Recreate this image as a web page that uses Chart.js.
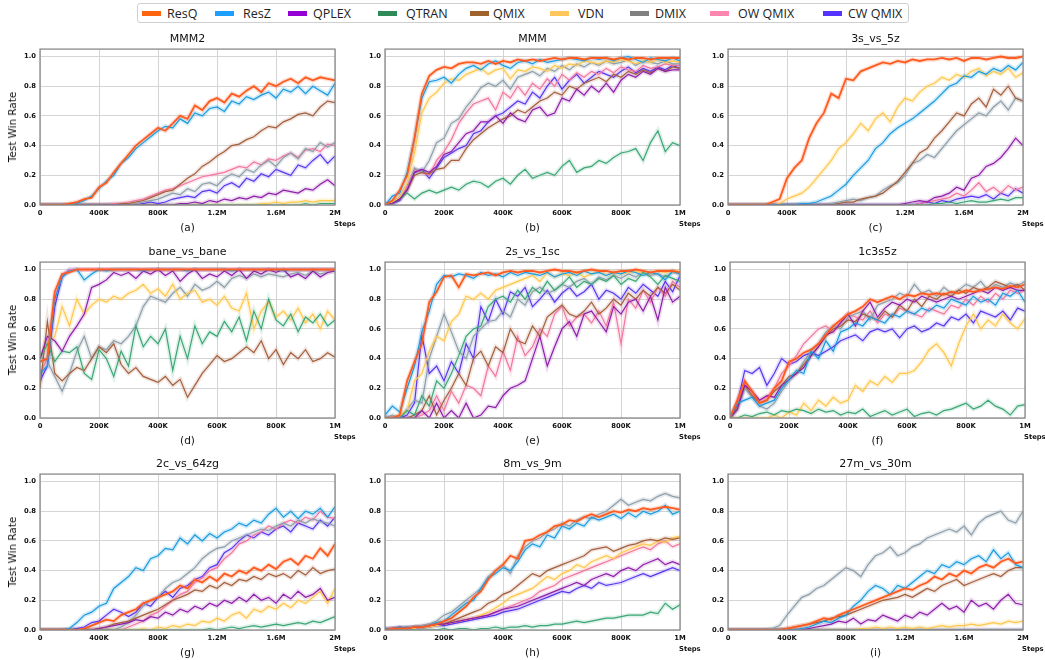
<!DOCTYPE html>
<html><head><meta charset="utf-8">
<script src="https://cdn.jsdelivr.net/npm/chart.js@4.4.1/dist/chart.umd.min.js"></script>
<style>
body{margin:0;background:#fff;width:1045px;height:660px;position:relative;overflow:hidden;font-family:'DejaVu Sans',sans-serif;}
canvas{position:absolute;}
.t{position:absolute;font-size:11px;color:#111;transform:translate(-50%,-50%);white-space:nowrap;}
.sub{position:absolute;font-size:10.5px;color:#111;transform:translate(-50%,-50%);white-space:nowrap;}
.steps{position:absolute;font-weight:bold;font-size:6.8px;color:#111;white-space:nowrap;}
.ylab{position:absolute;font-size:10.4px;font-weight:normal;color:#111;white-space:nowrap;transform:translate(-50%,-50%) rotate(-90deg);}
#legend{position:absolute;left:137px;top:3px;width:770px;height:18px;border:1px solid #cfcfcf;border-radius:3px;background:#fff;}
.lb{position:absolute;top:7px;width:19px;height:5px;}
.lt{position:absolute;top:0;line-height:19px;font-family:'Open Sans',sans-serif;font-size:12.5px;color:#222;white-space:nowrap;}
</style></head><body>
<div id="legend"></div>
<script>
const SERIES = ['ResQ','ResZ','QPLEX','QTRAN','QMIX','VDN','DMIX','OW QMIX','CW QMIX'];
const X_TICKS_2M = [0,400000,800000,1200000,1600000,2000000];
const X_LABELS_2M = ['0','400K','800K','1.2M','1.6M','2M'];
const X_TICKS_1M = [0,200000,400000,600000,800000,1000000];
const X_LABELS_1M = ['0','200K','400K','600K','800K','1M'];
const Y_TICKS = [0,0.2,0.4,0.6,0.8,1.0];
const Y_LABELS = ['0.0','0.2','0.4','0.6','0.8','1.0'];

// (a) MMM2, 0..2M
const MMM2_ResQ = [0,0,0,0,0.01,0.02,0.04,0.05,0.12,0.15, 0.22,0.28,0.34,0.40,0.44,0.48,0.52,0.50,0.55,0.60, 0.58,0.67,0.64,0.70,0.72,0.69,0.75,0.73,0.77,0.80, 0.76,0.82,0.80,0.83,0.85,0.82,0.86,0.84,0.86,0.85, 0.84];
const MMM2_ResZ = [0,0,0,0,0,0.01,0.03,0.06,0.11,0.16, 0.20,0.28,0.32,0.38,0.42,0.46,0.50,0.53,0.52,0.58, 0.55,0.62,0.60,0.65,0.66,0.63,0.70,0.68,0.73,0.71, 0.74,0.76,0.72,0.78,0.76,0.80,0.75,0.80,0.77,0.74, 0.82];
const MMM2_QPLEX = [0,0,0,0,0,0,0,0,0,0, 0,0,0,0,0,0,0,0,0,0.01, 0.01,0.02,0.01,0.03,0.02,0.04,0.03,0.05,0.04,0.06, 0.05,0.08,0.07,0.10,0.09,0.08,0.11,0.10,0.14,0.17, 0.13];
const MMM2_QTRAN = [0,0,0,0,0,0,0,0,0,0, 0,0,0,0,0,0,0,0,0,0, 0,0,0,0,0,0,0,0,0,0, 0,0,0,0,0,0,0.01,0,0.01,0.01, 0.01];
const MMM2_QMIX = [0,0,0,0,0,0,0,0,0,0, 0,0.01,0.01,0.02,0.03,0.05,0.07,0.09,0.10,0.14, 0.18,0.21,0.26,0.29,0.33,0.36,0.40,0.41,0.44,0.46, 0.50,0.53,0.52,0.56,0.58,0.61,0.62,0.60,0.66,0.70, 0.69];
const MMM2_VDN = [0,0,0,0,0,0,0,0,0,0, 0,0,0,0,0,0,0,0,0,0, 0,0,0,0,0,0,0,0,0,0, 0.01,0.01,0.02,0.01,0.02,0.02,0.03,0.02,0.03,0.03, 0.03];
const MMM2_DMIX = [0,0,0,0,0,0,0,0,0,0, 0,0,0,0.01,0.02,0.03,0.04,0.06,0.08,0.07, 0.11,0.09,0.14,0.15,0.13,0.18,0.21,0.19,0.24,0.22, 0.27,0.30,0.26,0.32,0.35,0.31,0.38,0.36,0.42,0.39, 0.42];
const MMM2_OWQMIX = [0,0,0,0,0,0,0,0,0,0, 0.01,0.01,0.02,0.03,0.04,0.06,0.08,0.10,0.11,0.13, 0.15,0.17,0.19,0.20,0.21,0.22,0.24,0.26,0.25,0.29, 0.27,0.31,0.30,0.33,0.35,0.32,0.37,0.38,0.36,0.41, 0.40];
const MMM2_CWQMIX = [0,0,0,0,0,0,0,0,0,0, 0,0,0,0,0.01,0.02,0.01,0.02,0.04,0.05, 0.06,0.05,0.09,0.10,0.08,0.13,0.15,0.12,0.18,0.16, 0.21,0.19,0.24,0.22,0.20,0.27,0.25,0.30,0.34,0.28, 0.33];

// (b) MMM, 0..1M
const MMM_ResQ = [0,0.03,0.10,0.20,0.45,0.75,0.87,0.91,0.93,0.92, 0.95,0.96,0.96,0.95,0.97,0.95,0.97,0.96,0.98,0.97, 0.98,0.97,0.98,0.99,0.98,0.99,0.99,0.98,0.99,0.99, 0.99,0.98,0.99,0.98,0.99,0.99,0.98,0.99,0.99,0.99, 0.99];
const MMM_ResZ = [0,0.06,0.08,0.22,0.45,0.72,0.83,0.84,0.86,0.82, 0.88,0.92,0.94,0.91,0.95,0.97,0.94,0.92,0.96,0.97, 0.95,0.98,0.96,0.97,0.98,0.99,0.98,0.97,0.99,0.98, 0.99,0.97,0.99,1.0,0.98,0.96,0.99,0.98,0.97,0.99, 0.97];
const MMM_QPLEX = [0,0.01,0.04,0.10,0.22,0.24,0.22,0.26,0.34,0.36, 0.42,0.48,0.50,0.56,0.56,0.60,0.55,0.62,0.58,0.56, 0.64,0.66,0.60,0.62,0.72,0.70,0.78,0.74,0.80,0.76, 0.82,0.76,0.84,0.88,0.86,0.90,0.88,0.92,0.90,0.91, 0.91];
const MMM_QTRAN = [0,0.01,0.04,0.08,0.04,0.08,0.10,0.08,0.10,0.12, 0.10,0.14,0.16,0.15,0.12,0.16,0.18,0.14,0.20,0.24, 0.18,0.20,0.22,0.20,0.26,0.30,0.22,0.25,0.26,0.30, 0.28,0.32,0.35,0.36,0.38,0.30,0.42,0.50,0.36,0.42, 0.40];
const MMM_QMIX = [0,0.01,0.04,0.10,0.20,0.22,0.21,0.24,0.25,0.30, 0.30,0.38,0.44,0.48,0.52,0.55,0.58,0.60,0.64,0.62, 0.66,0.70,0.72,0.76,0.74,0.80,0.78,0.82,0.84,0.86, 0.83,0.88,0.86,0.90,0.88,0.91,0.89,0.92,0.90,0.93, 0.92];
const MMM_VDN = [0,0.02,0.05,0.15,0.35,0.62,0.72,0.76,0.82,0.85, 0.84,0.88,0.90,0.92,0.88,0.91,0.92,0.85,0.91,0.90, 0.93,0.92,0.90,0.94,0.92,0.95,0.94,0.97,0.96,0.95, 0.97,0.96,0.98,0.97,0.95,0.97,0.96,0.98,0.96,0.97, 0.96];
const MMM_DMIX = [0,0.02,0.05,0.10,0.25,0.22,0.30,0.42,0.45,0.55, 0.58,0.66,0.72,0.79,0.82,0.80,0.84,0.78,0.86,0.88, 0.90,0.87,0.92,0.90,0.94,0.91,0.95,0.93,0.96,0.94, 0.97,0.95,0.96,0.98,0.94,0.97,0.96,0.95,0.97,0.95, 0.95];
const MMM_OWQMIX = [0,0.01,0.05,0.12,0.24,0.22,0.20,0.30,0.36,0.44, 0.55,0.62,0.68,0.70,0.72,0.64,0.76,0.72,0.80,0.74, 0.82,0.78,0.85,0.80,0.88,0.84,0.89,0.86,0.90,0.88, 0.92,0.89,0.93,0.91,0.90,0.94,0.92,0.93,0.95,0.94, 0.94];
const MMM_CWQMIX = [0,0.01,0.03,0.12,0.22,0.24,0.18,0.25,0.32,0.35, 0.38,0.40,0.48,0.50,0.56,0.60,0.62,0.66,0.70,0.68, 0.76,0.72,0.80,0.86,0.78,0.84,0.88,0.82,0.86,0.90, 0.88,0.86,0.90,0.93,0.89,0.92,0.90,0.93,0.91,0.94, 0.92];

// (c) 3s_vs_5z, 0..2M
const S3V5Z_ResQ = [0,0,0,0,0,0,0.02,0.04,0.18,0.25, 0.30,0.45,0.55,0.62,0.75,0.72,0.85,0.84,0.90,0.92, 0.94,0.96,0.95,0.97,0.96,0.98,0.97,0.98,0.98,0.99, 0.98,0.99,0.97,0.99,0.99,0.98,0.99,1.0,0.99,0.99, 1.0];
const S3V5Z_ResZ = [0,0,0,0,0,0,0,0,0,0, 0.01,0.01,0.02,0.04,0.06,0.10,0.14,0.20,0.25,0.30, 0.38,0.42,0.48,0.52,0.55,0.58,0.62,0.66,0.70,0.75, 0.80,0.82,0.87,0.86,0.90,0.88,0.92,0.90,0.94,0.91, 0.96];
const S3V5Z_QPLEX = [0,0,0,0,0,0,0,0,0,0, 0,0,0,0,0,0,0,0,0,0, 0,0,0,0,0.01,0.02,0.03,0.02,0.05,0.06, 0.08,0.12,0.10,0.18,0.20,0.26,0.28,0.32,0.38,0.45, 0.40];
const S3V5Z_QTRAN = [0,0,0,0,0,0,0,0,0,0, 0,0,0,0,0,0,0,0,0,0, 0,0,0,0,0,0,0,0,0.01,0.01, 0.02,0.01,0.02,0.03,0.02,0.02,0.03,0.04,0.03,0.05, 0.05];
const S3V5Z_QMIX = [0,0,0,0,0,0,0,0,0,0, 0,0,0,0,0,0.01,0.02,0.02,0.04,0.05, 0.06,0.08,0.12,0.16,0.22,0.28,0.35,0.38,0.45,0.50, 0.56,0.62,0.60,0.68,0.72,0.66,0.78,0.74,0.80,0.72, 0.70];
const S3V5Z_VDN = [0,0,0,0,0,0,0,0.01,0.04,0.06, 0.08,0.12,0.18,0.24,0.30,0.38,0.42,0.48,0.55,0.50, 0.58,0.62,0.56,0.66,0.72,0.70,0.76,0.80,0.82,0.86, 0.84,0.88,0.86,0.90,0.92,0.87,0.90,0.88,0.92,0.86, 0.89];
const S3V5Z_DMIX = [0,0,0,0,0,0,0,0,0,0, 0,0,0,0,0.01,0.02,0.03,0.04,0.03,0.05, 0.06,0.10,0.13,0.15,0.20,0.28,0.30,0.34,0.32,0.38, 0.44,0.50,0.54,0.58,0.62,0.60,0.66,0.70,0.64,0.72, 0.70];
const S3V5Z_OWQMIX = [0,0,0,0,0,0,0,0,0,0, 0,0,0,0,0,0,0,0,0,0, 0,0,0,0,0,0,0.01,0.02,0.03,0.04, 0.05,0.08,0.06,0.10,0.15,0.09,0.12,0.08,0.13,0.10, 0.12];
const S3V5Z_CWQMIX = [0,0,0,0,0,0,0,0,0,0, 0,0,0,0,0,0,0,0,0,0, 0,0,0,0,0,0,0.01,0.02,0.01,0.03, 0.02,0.04,0.05,0.06,0.05,0.07,0.04,0.08,0.06,0.11, 0.08];

// (d) bane_vs_bane, 0..1M
const BANE_ResQ = [0.38,0.40,0.85,0.97,0.98,1.0,1.0,1.0,1.0,1.0, 1.0,1.0,1.0,1.0,1.0,1.0,1.0,1.0,1.0,1.0, 1.0,1.0,1.0,1.0,1.0,1.0,1.0,1.0,1.0,1.0, 1.0,1.0,1.0,1.0,1.0,1.0,1.0,1.0,1.0,1.0, 1.0];
const BANE_ResZ = [0.30,0.35,0.80,0.95,0.99,1.0,0.93,0.97,1.0,0.99, 1.0,1.0,1.0,1.0,0.99,1.0,1.0,1.0,1.0,1.0, 0.99,1.0,1.0,1.0,1.0,1.0,0.99,1.0,1.0,1.0, 1.0,1.0,1.0,0.99,1.0,1.0,1.0,1.0,1.0,1.0, 1.0];
const BANE_QPLEX = [0.40,0.55,0.52,0.45,0.55,0.62,0.70,0.88,0.90,0.93, 0.98,0.96,0.98,0.94,0.99,0.97,1.0,0.96,0.99,0.92, 0.97,1.0,0.94,0.97,0.95,0.99,0.96,1.0,0.94,0.99, 0.97,1.0,0.98,1.0,0.95,0.97,0.94,0.99,0.95,0.98, 0.99];
const BANE_QTRAN = [0.40,0.50,0.38,0.45,0.44,0.48,0.30,0.26,0.46,0.40, 0.28,0.45,0.35,0.62,0.48,0.55,0.50,0.60,0.32,0.55, 0.40,0.62,0.50,0.58,0.55,0.65,0.58,0.68,0.52,0.72, 0.60,0.80,0.66,0.62,0.70,0.58,0.68,0.64,0.70,0.62, 0.66];
const BANE_QMIX = [0.20,0.65,0.30,0.25,0.30,0.34,0.32,0.40,0.48,0.44, 0.50,0.36,0.30,0.34,0.28,0.26,0.24,0.28,0.22,0.26, 0.14,0.22,0.30,0.36,0.42,0.38,0.40,0.44,0.48,0.44, 0.52,0.40,0.46,0.36,0.44,0.40,0.46,0.38,0.40,0.44, 0.41];
const BANE_VDN = [0.40,0.50,0.55,0.75,0.62,0.80,0.70,0.76,0.80,0.78, 0.82,0.80,0.84,0.86,0.90,0.84,0.87,0.82,0.90,0.80, 0.84,0.86,0.78,0.80,0.76,0.82,0.74,0.72,0.84,0.60, 0.72,0.78,0.68,0.72,0.66,0.74,0.64,0.70,0.60,0.72, 0.66];
const BANE_DMIX = [0.42,0.38,0.28,0.18,0.30,0.45,0.55,0.40,0.48,0.46, 0.52,0.50,0.55,0.62,0.75,0.82,0.80,0.78,0.84,0.88, 0.82,0.90,0.86,0.88,0.92,0.88,0.94,0.96,0.94,0.97, 0.95,0.97,0.96,0.95,0.97,0.98,0.96,0.99,0.97,0.98, 0.99];
const BANE_OWQMIX = [0.30,0.40,0.80,0.96,1.0,1.0,1.0,1.0,1.0,1.0, 1.0,1.0,1.0,1.0,1.0,1.0,1.0,1.0,1.0,1.0, 1.0,1.0,1.0,1.0,1.0,1.0,1.0,1.0,1.0,1.0, 1.0,1.0,1.0,1.0,1.0,1.0,1.0,1.0,1.0,1.0, 1.0];
const BANE_CWQMIX = [0.25,0.35,0.75,0.95,1.0,1.0,1.0,1.0,1.0,1.0, 1.0,1.0,1.0,1.0,1.0,1.0,1.0,1.0,1.0,1.0, 1.0,1.0,1.0,1.0,1.0,1.0,1.0,1.0,1.0,1.0, 1.0,1.0,1.0,1.0,1.0,1.0,1.0,1.0,1.0,1.0, 1.0];

// (e) 2s_vs_1sc, 0..1M
const S2V1SC_ResQ = [0,0,0.02,0.25,0.38,0.50,0.78,0.85,0.95,0.96, 0.88,0.97,0.96,0.97,0.98,0.96,0.98,0.99,0.98,0.99, 0.99,0.98,0.99,1.0,0.99,0.99,0.98,0.99,1.0,0.99, 0.99,0.98,0.99,0.99,1.0,0.99,0.98,0.99,0.99,0.99, 0.98];
const S2V1SC_ResZ = [0.02,0.08,0.04,0.20,0.35,0.58,0.72,0.90,0.96,0.95, 0.97,0.96,0.94,0.98,0.96,0.97,0.95,0.98,0.96,0.98, 0.97,0.96,0.98,0.95,0.97,0.98,0.96,0.99,0.97,0.98, 0.96,0.98,0.97,0.99,0.98,0.96,0.98,0.97,0.93,0.99, 0.97];
const S2V1SC_QPLEX = [0,0,0,0,0,0.05,0,0.10,0,0.05, 0,0.10,0,0.02,0.08,0.07,0.15,0.20,0.22,0.25, 0.40,0.55,0.35,0.48,0.60,0.65,0.55,0.70,0.72,0.65, 0.58,0.75,0.70,0.78,0.80,0.72,0.82,0.66,0.88,0.78, 0.82];
const S2V1SC_QTRAN = [0,0,0,0.05,0.02,0.15,0.08,0.25,0.20,0.30, 0.42,0.55,0.60,0.62,0.75,0.80,0.82,0.78,0.86,0.80, 0.88,0.84,0.92,0.86,0.90,0.95,0.88,0.92,0.90,0.94, 0.92,0.96,0.90,0.94,0.92,0.98,0.95,0.90,0.96,0.94, 0.92];
const S2V1SC_QMIX = [0,0,0,0,0.02,0.05,0.15,0.02,0.12,0.20, 0.30,0.22,0.40,0.45,0.35,0.48,0.44,0.60,0.52,0.50, 0.62,0.55,0.68,0.72,0.76,0.70,0.68,0.72,0.78,0.70, 0.74,0.80,0.76,0.84,0.80,0.86,0.82,0.88,0.84,0.90, 0.86];
const S2V1SC_VDN = [0,0,0.02,0.05,0.25,0.30,0.45,0.55,0.52,0.65, 0.70,0.82,0.80,0.84,0.80,0.86,0.88,0.90,0.92,0.94, 0.96,0.92,0.98,0.95,0.97,0.96,0.98,0.95,0.97,0.99, 0.96,0.98,0.97,0.98,0.99,0.97,0.98,0.99,0.98,0.99, 0.99];
const S2V1SC_DMIX = [0,0.02,0,0.06,0.12,0.10,0.40,0.55,0.70,0.58, 0.45,0.40,0.55,0.60,0.65,0.66,0.72,0.68,0.80,0.76, 0.85,0.88,0.84,0.86,0.90,0.88,0.92,0.94,0.90,0.95, 0.93,0.96,0.94,0.97,0.95,0.98,0.96,0.97,0.95,0.98, 0.97];
const S2V1SC_OWQMIX = [0,0,0,0,0,0.02,0.05,0.15,0.05,0.18, 0.10,0.22,0.20,0.15,0.35,0.28,0.45,0.32,0.55,0.42, 0.48,0.60,0.55,0.70,0.75,0.62,0.68,0.70,0.64,0.72, 0.62,0.78,0.50,0.80,0.74,0.86,0.78,0.88,0.82,0.92, 0.88];
const S2V1SC_CWQMIX = [0,0,0,0.02,0.10,0.56,0.30,0.35,0.25,0.38, 0.30,0.50,0.40,0.75,0.65,0.80,0.70,0.85,0.82,0.88, 0.75,0.80,0.86,0.78,0.84,0.88,0.82,0.85,0.90,0.80, 0.86,0.84,0.80,0.88,0.84,0.90,0.86,0.82,0.92,0.85, 0.96];

// (f) 1c3s5z, 0..1M
const C1S3Z5_ResQ = [0,0.12,0.25,0.18,0.10,0.12,0.20,0.25,0.38,0.40, 0.44,0.46,0.50,0.56,0.62,0.66,0.70,0.72,0.75,0.80, 0.78,0.80,0.82,0.80,0.83,0.82,0.84,0.83,0.84,0.83, 0.85,0.84,0.86,0.85,0.86,0.87,0.88,0.87,0.89,0.88, 0.90];
const C1S3Z5_ResZ = [0,0.10,0.12,0.14,0.08,0.10,0.12,0.20,0.26,0.32, 0.30,0.45,0.40,0.52,0.45,0.58,0.60,0.64,0.62,0.68, 0.66,0.64,0.70,0.68,0.72,0.70,0.74,0.72,0.76,0.74, 0.80,0.78,0.76,0.82,0.78,0.80,0.76,0.84,0.82,0.86, 0.78];
const C1S3Z5_QPLEX = [0,0.06,0.22,0.18,0.12,0.15,0.14,0.22,0.26,0.30, 0.34,0.42,0.48,0.56,0.58,0.64,0.70,0.62,0.72,0.78, 0.68,0.74,0.78,0.76,0.80,0.78,0.82,0.80,0.78,0.80, 0.82,0.80,0.82,0.84,0.86,0.84,0.88,0.86,0.88,0.86, 0.86];
const C1S3Z5_QTRAN = [0,0,0.02,0.01,0.03,0.04,0.02,0.05,0.04,0.06, 0.05,0.03,0.06,0.04,0.05,0.02,0.04,0.03,0.06,0.01, 0.03,0.05,0.02,0.04,0.06,0.01,0.03,0.04,0.02,0.05, 0.06,0.08,0.10,0.06,0.08,0.12,0.08,0.06,0.02,0.08, 0.09];
const C1S3Z5_QMIX = [0,0.08,0.22,0.15,0.10,0.12,0.18,0.22,0.28,0.30, 0.36,0.42,0.48,0.55,0.60,0.62,0.66,0.65,0.70,0.68, 0.66,0.72,0.68,0.76,0.72,0.80,0.75,0.82,0.80,0.84, 0.82,0.86,0.84,0.88,0.86,0.88,0.92,0.90,0.88,0.90, 0.86];
const C1S3Z5_VDN = [0,0,0,0,0,0,0.02,0,0.04,0.02, 0.10,0.05,0.12,0.08,0.14,0.10,0.12,0.22,0.18,0.25, 0.22,0.28,0.24,0.30,0.30,0.32,0.38,0.46,0.50,0.44, 0.35,0.50,0.62,0.70,0.60,0.66,0.62,0.70,0.64,0.60, 0.67];
const C1S3Z5_DMIX = [0,0.05,0.20,0.14,0.08,0.06,0.10,0.18,0.25,0.30, 0.38,0.45,0.50,0.58,0.62,0.60,0.68,0.70,0.72,0.66, 0.76,0.78,0.80,0.84,0.82,0.90,0.84,0.86,0.82,0.88, 0.84,0.86,0.90,0.88,0.92,0.86,0.90,0.88,0.91,0.89, 0.92];
const C1S3Z5_OWQMIX = [0,0.10,0.24,0.16,0.12,0.14,0.20,0.30,0.35,0.42, 0.50,0.55,0.60,0.62,0.58,0.65,0.70,0.68,0.66,0.72, 0.64,0.70,0.68,0.74,0.72,0.70,0.68,0.74,0.72,0.70, 0.76,0.74,0.80,0.76,0.82,0.78,0.84,0.80,0.86,0.84, 0.86];
const C1S3Z5_CWQMIX = [0,0.10,0.32,0.30,0.34,0.22,0.30,0.40,0.36,0.38, 0.42,0.44,0.42,0.45,0.48,0.52,0.54,0.56,0.52,0.58, 0.60,0.58,0.60,0.54,0.60,0.62,0.58,0.60,0.64,0.62, 0.68,0.66,0.70,0.64,0.72,0.70,0.68,0.72,0.66,0.74, 0.72];

// (g) 2c_vs_64zg, 0..2M
const C2V64ZG_ResQ = [0,0,0,0,0,0,0.01,0.03,0.05,0.07, 0.06,0.10,0.12,0.14,0.18,0.20,0.22,0.24,0.26,0.30, 0.28,0.34,0.32,0.36,0.33,0.38,0.36,0.40,0.38,0.42, 0.40,0.44,0.41,0.46,0.48,0.44,0.50,0.48,0.55,0.50, 0.58];
const C2V64ZG_ResZ = [0,0,0,0,0.01,0.05,0.10,0.12,0.16,0.18, 0.28,0.32,0.36,0.42,0.40,0.48,0.50,0.55,0.54,0.62, 0.58,0.64,0.60,0.65,0.62,0.66,0.68,0.72,0.70,0.74, 0.72,0.78,0.82,0.76,0.80,0.75,0.80,0.78,0.82,0.76, 0.83];
const C2V64ZG_QPLEX = [0,0,0,0,0,0,0,0,0.01,0.02, 0.03,0.04,0.05,0.07,0.06,0.09,0.08,0.12,0.10,0.14, 0.12,0.16,0.14,0.18,0.16,0.20,0.18,0.22,0.19,0.24, 0.20,0.22,0.18,0.24,0.21,0.26,0.22,0.24,0.28,0.20, 0.22];
const C2V64ZG_QTRAN = [0,0,0,0,0,0,0,0,0,0, 0,0,0,0,0,0,0,0,0,0, 0,0,0,0.01,0,0.01,0.02,0.01,0.02,0.03, 0.02,0.03,0.04,0.03,0.04,0.05,0.04,0.06,0.05,0.07, 0.09];
const C2V64ZG_QMIX = [0,0,0,0,0,0,0,0,0.01,0.02, 0.04,0.05,0.06,0.08,0.10,0.12,0.14,0.17,0.20,0.22, 0.24,0.27,0.26,0.30,0.28,0.32,0.30,0.34,0.33,0.36, 0.34,0.38,0.36,0.38,0.35,0.40,0.37,0.42,0.38,0.40, 0.41];
const C2V64ZG_VDN = [0,0,0,0,0,0,0,0,0,0, 0,0,0,0,0.01,0,0.02,0.01,0.03,0.02, 0.04,0.03,0.06,0.05,0.08,0.06,0.10,0.12,0.08,0.14, 0.12,0.16,0.14,0.18,0.15,0.20,0.18,0.22,0.26,0.18, 0.28];
const C2V64ZG_DMIX = [0,0,0,0,0,0,0,0,0,0, 0,0.02,0.05,0.10,0.16,0.20,0.22,0.28,0.32,0.34, 0.38,0.42,0.48,0.52,0.55,0.56,0.60,0.62,0.64,0.66, 0.68,0.67,0.70,0.72,0.70,0.74,0.72,0.75,0.73,0.72, 0.70];
const C2V64ZG_OWQMIX = [0,0,0,0,0,0,0,0,0,0, 0,0,0.02,0.04,0.06,0.10,0.12,0.16,0.20,0.24, 0.26,0.32,0.35,0.40,0.42,0.48,0.52,0.58,0.60,0.64, 0.66,0.70,0.68,0.72,0.74,0.72,0.76,0.74,0.80,0.76, 0.75];
const C2V64ZG_CWQMIX = [0,0,0,0,0,0.01,0.02,0.05,0.06,0.10, 0.14,0.12,0.09,0.12,0.18,0.16,0.22,0.26,0.22,0.28, 0.30,0.34,0.36,0.42,0.44,0.52,0.55,0.60,0.64,0.62, 0.66,0.64,0.68,0.70,0.66,0.72,0.70,0.68,0.74,0.70, 0.76];

// (h) 8m_vs_9m, 0..1M
const M8V9M_ResQ = [0,0.01,0.01,0.01,0.02,0.02,0.03,0.04,0.06,0.08, 0.12,0.16,0.22,0.26,0.34,0.40,0.44,0.50,0.48,0.60, 0.61,0.64,0.66,0.70,0.71,0.74,0.73,0.76,0.78,0.76, 0.78,0.80,0.79,0.81,0.80,0.82,0.81,0.82,0.83,0.82, 0.81];
const M8V9M_ResZ = [0.01,0.01,0.02,0.01,0.02,0.02,0.03,0.05,0.06,0.10, 0.14,0.18,0.20,0.28,0.35,0.38,0.42,0.40,0.46,0.54, 0.58,0.56,0.64,0.62,0.70,0.68,0.72,0.70,0.76,0.74, 0.76,0.78,0.75,0.79,0.76,0.80,0.78,0.80,0.84,0.78, 0.80];
const M8V9M_QPLEX = [0.01,0.01,0.02,0.01,0.02,0.02,0.03,0.04,0.04,0.05, 0.06,0.07,0.08,0.09,0.10,0.12,0.14,0.15,0.16,0.18, 0.20,0.22,0.24,0.26,0.28,0.30,0.32,0.30,0.34,0.36, 0.38,0.36,0.40,0.42,0.40,0.44,0.46,0.48,0.44,0.46, 0.44];
const M8V9M_QTRAN = [0,0,0,0,0,0,0,0,0.01,0, 0.01,0.01,0,0.01,0.01,0.02,0.01,0.02,0.02,0.03, 0.02,0.03,0.03,0.04,0.04,0.05,0.06,0.05,0.06,0.07, 0.08,0.08,0.09,0.10,0.10,0.10,0.12,0.11,0.18,0.14, 0.17];
const M8V9M_QMIX = [0,0,0.01,0.01,0.02,0.02,0.03,0.04,0.04,0.06, 0.08,0.10,0.12,0.14,0.18,0.20,0.24,0.26,0.30,0.34, 0.38,0.36,0.40,0.42,0.44,0.46,0.48,0.50,0.54,0.55, 0.56,0.53,0.55,0.57,0.58,0.60,0.61,0.60,0.62,0.61, 0.62];
const M8V9M_VDN = [0,0,0.01,0.01,0.01,0.02,0.02,0.03,0.04,0.05, 0.06,0.07,0.08,0.10,0.12,0.15,0.18,0.22,0.24,0.26, 0.28,0.32,0.36,0.34,0.38,0.40,0.44,0.42,0.46,0.48, 0.50,0.48,0.52,0.54,0.56,0.58,0.57,0.60,0.59,0.62, 0.63];
const M8V9M_DMIX = [0,0.01,0.01,0.02,0.02,0.03,0.04,0.06,0.10,0.12, 0.16,0.20,0.24,0.28,0.36,0.40,0.44,0.38,0.50,0.56, 0.60,0.62,0.66,0.68,0.72,0.70,0.74,0.76,0.75,0.78, 0.80,0.84,0.88,0.84,0.86,0.88,0.87,0.90,0.92,0.90, 0.89];
const M8V9M_OWQMIX = [0,0,0.01,0.01,0.02,0.02,0.03,0.04,0.04,0.05, 0.06,0.07,0.08,0.09,0.10,0.12,0.14,0.16,0.18,0.20, 0.22,0.26,0.28,0.30,0.34,0.36,0.38,0.40,0.42,0.44, 0.46,0.48,0.50,0.52,0.54,0.56,0.54,0.58,0.60,0.56, 0.58];
const M8V9M_CWQMIX = [0,0.01,0.01,0.02,0.01,0.02,0.02,0.03,0.03,0.04, 0.05,0.06,0.07,0.08,0.09,0.10,0.12,0.13,0.14,0.16, 0.18,0.20,0.22,0.24,0.26,0.25,0.28,0.30,0.28,0.32, 0.30,0.31,0.32,0.34,0.36,0.38,0.36,0.38,0.40,0.42, 0.40];

// (i) 27m_vs_30m, 0..2M
const M27V30M_ResQ = [0,0,0,0,0,0,0,0,0.01,0.02, 0.03,0.04,0.06,0.08,0.07,0.10,0.12,0.14,0.16,0.18, 0.20,0.22,0.24,0.26,0.28,0.27,0.30,0.32,0.36,0.34, 0.38,0.36,0.40,0.38,0.42,0.44,0.42,0.46,0.48,0.45, 0.46];
const M27V30M_ResZ = [0,0,0,0,0,0,0,0,0,0, 0.01,0.02,0.04,0.06,0.05,0.08,0.10,0.16,0.20,0.26, 0.30,0.28,0.24,0.30,0.28,0.32,0.36,0.40,0.38,0.44, 0.42,0.46,0.44,0.48,0.50,0.46,0.54,0.48,0.52,0.44, 0.42];
const M27V30M_QPLEX = [0,0,0,0,0,0,0,0,0,0, 0,0.01,0.02,0.03,0.04,0.06,0.05,0.08,0.04,0.07, 0.06,0.10,0.08,0.06,0.10,0.08,0.12,0.10,0.14,0.18, 0.14,0.16,0.12,0.20,0.16,0.18,0.14,0.20,0.24,0.18, 0.17];
const M27V30M_QTRAN = [0,0,0,0,0,0,0,0,0,0, 0,0,0,0,0,0,0,0,0,0, 0,0,0,0,0,0,0,0,0,0, 0,0,0,0,0,0,0,0,0,0, 0];
const M27V30M_QMIX = [0,0,0,0,0,0,0,0,0.01,0.02, 0.03,0.04,0.05,0.06,0.08,0.09,0.10,0.12,0.14,0.16, 0.18,0.20,0.21,0.22,0.24,0.22,0.25,0.28,0.26,0.30, 0.32,0.34,0.30,0.32,0.34,0.36,0.38,0.36,0.40,0.42, 0.42];
const M27V30M_VDN = [0,0,0,0,0,0,0,0,0,0, 0,0,0,0,0,0,0,0,0.01,0.01, 0.02,0.01,0.02,0.01,0.02,0.01,0.02,0.01,0.02,0.03, 0.02,0.03,0.03,0.04,0.03,0.04,0.05,0.04,0.06,0.05, 0.06];
const M27V30M_DMIX = [0,0,0,0,0,0,0.01,0.03,0.10,0.16, 0.22,0.24,0.28,0.30,0.34,0.38,0.42,0.40,0.36,0.44, 0.50,0.52,0.56,0.50,0.52,0.56,0.58,0.62,0.64,0.66, 0.68,0.66,0.70,0.64,0.72,0.76,0.78,0.80,0.74,0.72, 0.80];
const M27V30M_OWQMIX = [0,0,0,0,0,0,0,0,0,0, 0,0,0,0,0,0,0,0,0,0, 0,0,0,0,0,0,0,0,0,0, 0,0,0,0,0,0,0,0,0,0, 0];
const M27V30M_CWQMIX = [0,0,0,0,0,0,0,0,0,0, 0,0,0,0,0,0,0,0,0,0, 0,0,0,0,0,0,0,0,0,0, 0,0,0,0,0,0,0,0,0,0, 0];

const LINE_COLORS = {'ResQ':'#FF5A1F','ResZ':'#1A9BE0','QPLEX':'#8E1FAA','QTRAN':'#3BA676','QMIX':'#A45F3C','VDN':'#FFC74D','DMIX':'#8E9EAA','OW QMIX':'#F2779F','CW QMIX':'#5A36F0'};
const BAND_COLORS = {'ResQ':'rgba(255,90,31,0.2)','ResZ':'rgba(26,155,224,0.2)','QPLEX':'rgba(142,31,170,0.16)','QTRAN':'rgba(59,166,118,0.16)','QMIX':'rgba(164,95,60,0.16)','VDN':'rgba(255,199,77,0.22)','DMIX':'rgba(142,158,170,0.22)','OW QMIX':'rgba(242,119,159,0.18)','CW QMIX':'rgba(90,54,240,0.16)'};
const LEGEND_COLORS = {'ResQ':'#FF6410','ResZ':'#1E9FFF','QPLEX':'#9400D3','QTRAN':'#2E8B57','QMIX':'#A0622D','VDN':'#FFC65C','DMIX':'#808080','OW QMIX':'#FF85AD','CW QMIX':'#5533FF'};

const PANELS = [
 {title:'MMM2', tag:'(a)', xmax:2000000, left:40, top:49, ylab:true,
  d:[MMM2_ResQ,MMM2_ResZ,MMM2_QPLEX,MMM2_QTRAN,MMM2_QMIX,MMM2_VDN,MMM2_DMIX,MMM2_OWQMIX,MMM2_CWQMIX]},
 {title:'MMM', tag:'(b)', xmax:1000000, left:385, top:49,
  d:[MMM_ResQ,MMM_ResZ,MMM_QPLEX,MMM_QTRAN,MMM_QMIX,MMM_VDN,MMM_DMIX,MMM_OWQMIX,MMM_CWQMIX]},
 {title:'3s_vs_5z', tag:'(c)', xmax:2000000, left:728, top:49,
  d:[S3V5Z_ResQ,S3V5Z_ResZ,S3V5Z_QPLEX,S3V5Z_QTRAN,S3V5Z_QMIX,S3V5Z_VDN,S3V5Z_DMIX,S3V5Z_OWQMIX,S3V5Z_CWQMIX]},
 {title:'bane_vs_bane', tag:'(d)', xmax:1000000, left:40, top:262, ylab:true,
  d:[BANE_ResQ,BANE_ResZ,BANE_QPLEX,BANE_QTRAN,BANE_QMIX,BANE_VDN,BANE_DMIX,BANE_OWQMIX,BANE_CWQMIX]},
 {title:'2s_vs_1sc', tag:'(e)', xmax:1000000, left:385, top:262,
  d:[S2V1SC_ResQ,S2V1SC_ResZ,S2V1SC_QPLEX,S2V1SC_QTRAN,S2V1SC_QMIX,S2V1SC_VDN,S2V1SC_DMIX,S2V1SC_OWQMIX,S2V1SC_CWQMIX]},
 {title:'1c3s5z', tag:'(f)', xmax:1000000, left:730, top:262,
  d:[C1S3Z5_ResQ,C1S3Z5_ResZ,C1S3Z5_QPLEX,C1S3Z5_QTRAN,C1S3Z5_QMIX,C1S3Z5_VDN,C1S3Z5_DMIX,C1S3Z5_OWQMIX,C1S3Z5_CWQMIX]},
 {title:'2c_vs_64zg', tag:'(g)', xmax:2000000, left:40, top:474, ylab:true,
  d:[C2V64ZG_ResQ,C2V64ZG_ResZ,C2V64ZG_QPLEX,C2V64ZG_QTRAN,C2V64ZG_QMIX,C2V64ZG_VDN,C2V64ZG_DMIX,C2V64ZG_OWQMIX,C2V64ZG_CWQMIX]},
 {title:'8m_vs_9m', tag:'(h)', xmax:1000000, left:385, top:474,
  d:[M8V9M_ResQ,M8V9M_ResZ,M8V9M_QPLEX,M8V9M_QTRAN,M8V9M_QMIX,M8V9M_VDN,M8V9M_DMIX,M8V9M_OWQMIX,M8V9M_CWQMIX]},
 {title:'27m_vs_30m', tag:'(i)', xmax:2000000, left:728, top:474,
  d:[M27V30M_ResQ,M27V30M_ResZ,M27V30M_QPLEX,M27V30M_QTRAN,M27V30M_QMIX,M27V30M_VDN,M27V30M_DMIX,M27V30M_OWQMIX,M27V30M_CWQMIX]}
];

// legend
const LEG_BAR_X = [142,215,288,378,470,550,630,710,823];
const LEG_TXT_X = [167,243,313,406,493,578,655,738,848];
const leg = document.getElementById('legend');
SERIES.forEach((s,i)=>{
  const b = document.createElement('div'); b.className='lb';
  b.style.left=(LEG_BAR_X[i]-138)+'px'; b.style.background=LEGEND_COLORS[s]; leg.appendChild(b);
  const t = document.createElement('div'); t.className='lt';
  t.style.left=(LEG_TXT_X[i]-138)+'px'; t.textContent=s; leg.appendChild(t);
});

const W=295, H=156, PL=40, PT=8, PR=14, XH=16;
const frame = {id:'frame', afterDraw(chart){
  const {ctx, chartArea:a} = chart; ctx.save();
  ctx.strokeStyle='#8a8a8a'; ctx.lineWidth=1.3;
  ctx.strokeRect(a.left, a.top, a.right-a.left, a.bottom-a.top); ctx.restore();}};
const tickFont = {family:'DejaVu Sans', size:6.8, weight:'bold'};

function addText(cls, txt, x, y){
  const d=document.createElement('div'); d.className=cls; d.textContent=txt;
  d.style.left=x+'px'; d.style.top=y+'px'; document.body.appendChild(d); return d;
}

PANELS.forEach(p=>{
  const cv=document.createElement('canvas');
  cv.width=W+PL+PR; cv.height=H+PT+XH;
  cv.style.left=(p.left-PL)+'px'; cv.style.top=(p.top-PT)+'px';
  document.body.appendChild(cv);
  const xt = p.xmax===2000000 ? X_TICKS_2M : X_TICKS_1M;
  const xl = p.xmax===2000000 ? X_LABELS_2M : X_LABELS_1M;
  const datasets = [];
  SERIES.forEach((s,k)=>{
    const vals=p.d[k]; const step=p.xmax/(vals.length-1);
    const pts = vals.map((v,i)=>({x:i*step,y:v}));
    datasets.push({label:s, data:pts, borderColor:LINE_COLORS[s], backgroundColor:LINE_COLORS[s],
      borderWidth: s==='ResQ'?1.8:1.2, pointRadius:0, tension:0, fill:false, order:0});
    datasets.push({label:s+' band', data:pts, borderColor:BAND_COLORS[s], borderWidth:4.5,
      pointRadius:0, tension:0, fill:false, order:1});
  });
  new Chart(cv.getContext('2d'), {
    type:'line', data:{datasets},
    options:{responsive:false, animation:false, devicePixelRatio:1,
      layout:{padding:{left:0,top:PT,right:PR,bottom:0}},
      plugins:{legend:{display:false}, tooltip:{enabled:false}, title:{display:false}},
      scales:{
        x:{type:'linear', min:0, max:p.xmax,
          afterBuildTicks:s=>{s.ticks=xt.map(v=>({value:v}));},
          afterFit:s=>{s.height=XH;},
          ticks:{callback:v=>xl[xt.indexOf(v)], font:tickFont, color:'#111', padding:4, maxRotation:0, autoSkip:false},
          grid:{color:'#d4d4d4', lineWidth:1, drawTicks:false}, border:{display:false}},
        y:{min:0, max:1.05,
          afterBuildTicks:s=>{s.ticks=Y_TICKS.map(v=>({value:v}));},
          afterFit:s=>{s.width=PL;},
          ticks:{callback:v=>Y_LABELS[Y_TICKS.indexOf(v)], font:tickFont, color:'#111', padding:4, autoSkip:false},
          grid:{color:'#d4d4d4', lineWidth:1, drawTicks:false}, border:{display:false}}
      }},
    plugins:[frame]
  });
  const cx=p.left+W/2, bottom=p.top+H;
  addText('t', p.title, cx, p.top-11);
  addText('sub', p.tag, cx, bottom+22);
  addText('steps', 'Steps', p.left+W-1, bottom+15);
  if(p.ylab) addText('ylab', 'Test Win Rate', 12, p.top+H/2);
});
</script>
</body></html>
